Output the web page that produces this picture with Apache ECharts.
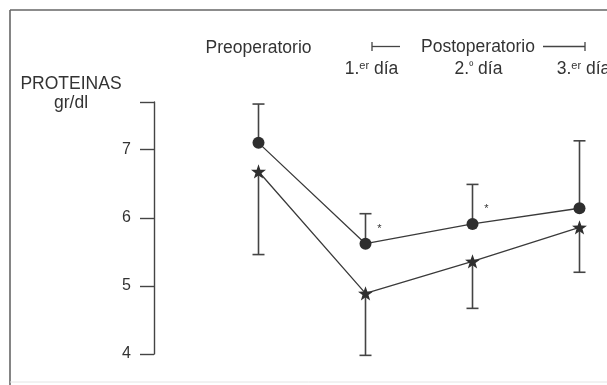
<!DOCTYPE html>
<html>
<head>
<meta charset="utf-8">
<script src="https://cdn.jsdelivr.net/npm/echarts@6/dist/echarts.min.js"></script>
<style>html,body{margin:0;padding:0;background:#fff}#c{width:607px;height:385px}</style>
</head>
<body>
<div id="c"></div>
<script>
// ---- data ----
var categories = ['Preoperatorio', '1.er día', '2.º día', '3.er día'];
var circleMean = [7.10, 5.62, 5.91, 6.14];
var circleUpper = [7.67, 6.06, 6.49, 7.13];
var starMean = [6.68, 4.89, 5.36, 5.86];
var starLower = [5.46, 3.98, 4.67, 5.20];
var significance = ['', '*', '*', ''];
var yTicks = [4, 5, 6, 7];
var yMin = 4, yMax = 7.7;
var yTitle = 'PROTEINAS\ngr/dl';
var headerText = 'Postoperatorio';

var FONT = '"Liberation Sans", Arial, Helvetica, sans-serif';
var INK = '#333';
var FS = 17.5;

var chart = echarts.init(document.getElementById('c'), null, {renderer: 'canvas'});

var starPath = 'path://M0,-10 L2.35,-3.24 L9.51,-3.09 L3.8,1.24 L5.88,8.09 L0,4 L-5.88,8.09 L-3.8,1.24 L-9.51,-3.09 L-2.35,-3.24 Z';

function errItem(params, api) {
  var c = api.coord([api.value(0), api.value(1)]);
  var e = api.coord([api.value(0), api.value(2)]);
  var half = 6;
  var st = {stroke: '#444', lineWidth: 1.6};
  return {
    type: 'group',
    children: [
      {type: 'line', shape: {x1: c[0], y1: c[1], x2: e[0], y2: e[1]}, style: st},
      {type: 'line', shape: {x1: e[0] - half, y1: e[1], x2: e[0] + half, y2: e[1]}, style: st}
    ]
  };
}

function catLabel(val, idx) {
  if (idx === 0) return '{pre|' + val + '}';
  var m = /^(\d+\.)(\S+)\s(.*)$/.exec(val);
  if (!m) return '{n|' + val + '}';
  var first = idx === 3 ? 'n3' : 'n0';
  return '{' + first + '|' + m[1] + '}{sup|' + m[2] + '}{n| ' + m[3] + '}';
}

var option = {
  backgroundColor: '#fff',
  animation: false,
  title: {
    text: yTitle,
    left: 66,
    top: 70,
    textAlign: 'center',
    textStyle: {fontFamily: FONT, fontSize: FS, fontWeight: 'normal', color: INK, lineHeight: 19, align: 'center'}
  },
  grid: {left: 205, top: 102, width: 428, height: 252, outerBoundsMode: 'none', containLabel: false},
  xAxis: {
    type: 'category',
    position: 'top',
    data: categories,
    axisLine: {show: false},
    axisTick: {show: false},
    axisLabel: {
      margin: 23,
      interval: 0,
      hideOverlap: false,
      formatter: catLabel,
      rich: {
        pre: {fontFamily: FONT, fontSize: FS, color: INK, padding: [0, 0, 22, 0]},
        n: {fontFamily: FONT, fontSize: FS, color: INK, lineHeight: 19},
        n0: {fontFamily: FONT, fontSize: FS, color: INK, lineHeight: 19, padding: [0, 0, 0, 12]},
        n3: {fontFamily: FONT, fontSize: FS, color: INK, lineHeight: 19, padding: [0, 0, 0, 8]},
        sup: {fontFamily: FONT, fontSize: 11, color: INK, verticalAlign: 'top', lineHeight: 19, padding: [0, 0, 6, 0]}
      }
    }
  },
  yAxis: {
    type: 'value',
    min: yMin,
    max: yMax,
    interval: 1,
    offset: 51,
    axisLine: {show: true, lineStyle: {color: '#444', width: 1.4}},
    axisTick: {show: true, length: 14, lineStyle: {color: '#444', width: 1.4}},
    splitLine: {show: false},
    axisLabel: {
      margin: 23,
      fontFamily: FONT,
      fontSize: 16,
      color: INK,
      formatter: function (v) { return yTicks.indexOf(v) >= 0 ? String(v) : ''; }
    }
  },
  graphic: [
    {type: 'line', shape: {x1: 10, y1: 10, x2: 10, y2: 385}, style: {stroke: '#666', lineWidth: 1.6}},
    {type: 'line', shape: {x1: 10, y1: 10, x2: 607, y2: 10}, style: {stroke: '#666', lineWidth: 1.6}},
    {type: 'line', shape: {x1: 10, y1: 382, x2: 607, y2: 382}, style: {stroke: '#e4e4e4', lineWidth: 1}},
    {type: 'line', shape: {x1: 372, y1: 42, x2: 372, y2: 51}, style: {stroke: '#444', lineWidth: 1.3}},
    {type: 'line', shape: {x1: 372, y1: 46.5, x2: 400, y2: 46.5}, style: {stroke: '#444', lineWidth: 1.3}},
    {type: 'line', shape: {x1: 543, y1: 46.5, x2: 585, y2: 46.5}, style: {stroke: '#444', lineWidth: 1.3}},
    {type: 'line', shape: {x1: 585, y1: 42, x2: 585, y2: 51}, style: {stroke: '#444', lineWidth: 1.3}},
    {type: 'text', x: 478, y: 47, style: {text: headerText, font: FS + 'px ' + FONT, fill: INK, align: 'center', verticalAlign: 'middle'}}
  ],
  series: [
    {
      type: 'custom',
      renderItem: errItem,
      data: circleMean.map(function (v, i) { return [i, v, circleUpper[i]]; }),
      z: 1
    },
    {
      type: 'custom',
      renderItem: errItem,
      data: starMean.map(function (v, i) { return [i, v, starLower[i]]; }),
      z: 1
    },
    {
      type: 'line',
      data: circleMean,
      symbol: 'circle',
      symbolSize: 12,
      lineStyle: {color: '#3a3a3a', width: 1.3},
      itemStyle: {color: '#2e2e2e'},
      label: {
        show: true,
        position: 'top',
        offset: [14, 2],
        fontFamily: FONT,
        fontSize: 11,
        color: INK,
        formatter: function (p) { return significance[p.dataIndex]; }
      },
      z: 3
    },
    {
      type: 'line',
      data: starMean,
      symbol: starPath,
      symbolSize: 15,
      symbolKeepAspect: true,
      lineStyle: {color: '#3a3a3a', width: 1.3},
      itemStyle: {color: '#2e2e2e'},
      z: 3
    }
  ]
};
chart.setOption(option);
</script>
</body>
</html>
